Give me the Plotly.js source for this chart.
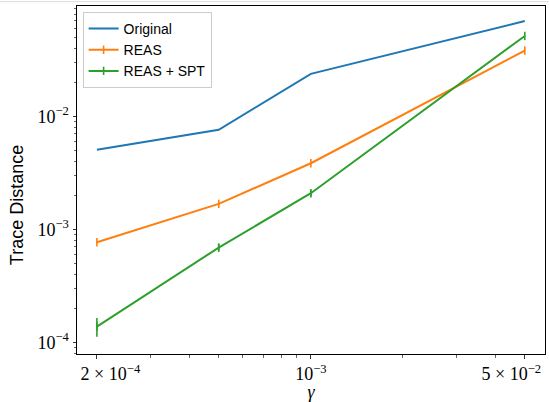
<!DOCTYPE html>
<html>
<head>
<meta charset="utf-8">
<script src="https://cdn.plot.ly/plotly-3.0.1.min.js"></script>
<style>html,body{margin:0;padding:0;background:#fff;}#chart{width:549px;height:402px;}</style>
</head>
<body>
<div id="chart"></div>
<script>
// Data
var gamma = [2e-4, 5e-4, 1e-3, 5e-3];
var original = [5.06e-3, 7.6e-3, 2.38e-2, 6.98e-2];
var reas = [7.7e-4, 1.68e-3, 3.85e-3, 3.82e-2];
var reasErr = [1e-5, 2e-5, 4e-5, 3e-4];
var reasSpt = [1.38e-4, 6.9e-4, 2.09e-3, 5.15e-2];
var reasSptErr = [2.6e-5, 5.5e-5, 1.4e-4, 4e-4];
var seriesNames = ["Original", "REAS", "REAS + SPT"];
var xTickVals = [2e-4, 1e-3, 5e-3];
var xTickText = ["2 × 10<sup>−4</sup>", "10<sup>−3</sup>", "5 × 10<sup>−2</sup>"];
var yTickVals = [1e-4, 1e-3, 1e-2];
var yTickText = ["10<sup>−4</sup>", "10<sup>−3</sup>", "10<sup>−2</sup>"];
var xTitle = "γ";
var yTitle = "Trace Distance";

var colors = ["#1f77b4", "#ff7f0e", "#2ca02c"];
var NB = "\u00a0";
function pad(n) { return new Array(n + 1).join(NB); }

// tick labels in the reference sit slightly inward at the two ends
var xTickShown = xTickText.map(function (t, i) {
  if (i === 0) return pad(6) + t;
  if (i === xTickText.length - 1) return t + pad(6);
  return t;
});

// minor tick positions (log decades)
var yMinor = [];
[1e-5, 1e-4, 1e-3, 1e-2].forEach(function (d) {
  for (var k = 2; k <= 9; k++) yMinor.push(k * d);
});
var xMinor = [];
[1e-4, 1e-3].forEach(function (d) {
  for (var k = 2; k <= 9; k++) {
    var v = k * d;
    var isMajor = xTickVals.some(function (t) { return Math.abs(t - v) < 1e-12; });
    if (!isMajor) xMinor.push(v);
  }
});

var traces = [
  {
    x: gamma, y: original, name: seriesNames[0], type: "scatter", mode: "lines",
    line: {color: colors[0], width: 2}
  },
  {
    x: gamma, y: reas, name: seriesNames[1], type: "scatter", mode: "lines+markers",
    line: {color: colors[1], width: 2},
    marker: {symbol: "line-ns", size: 6, line: {color: colors[1], width: 1.6}},
    error_y: {type: "data", array: reasErr, visible: true, color: colors[1], thickness: 1.6, width: 0}
  },
  {
    x: gamma, y: reasSpt, name: seriesNames[2], type: "scatter", mode: "lines+markers",
    line: {color: colors[2], width: 2},
    marker: {symbol: "line-ns", size: 6, line: {color: colors[2], width: 1.6}},
    error_y: {type: "data", array: reasSptErr, visible: true, color: colors[2], thickness: 1.6, width: 0}
  }
];

var tickFont = {family: "Liberation Serif, DejaVu Serif, serif", size: 18, color: "#000"};

var layout = {
  width: 549, height: 402,
  margin: {l: 77, r: 4, t: 6, b: 48, pad: 0},
  paper_bgcolor: "#fff", plot_bgcolor: "#fff",
  showlegend: true,
  legend: {
    x: 0.012, y: 0.983, xanchor: "left", yanchor: "top",
    bgcolor: "rgba(255,255,255,0.9)", bordercolor: "#cccccc", borderwidth: 1,
    font: {family: "Liberation Sans, Arial, sans-serif", size: 14, color: "#000"},
    tracegroupgap: 0
  },
  xaxis: {
    type: "log", range: [-3.764, -2.235],
    tickmode: "array", tickvals: xTickVals, ticktext: xTickShown,
    ticks: "outside", ticklen: 3.5, tickwidth: 0.8, tickcolor: "#000",
    ticklabeloverflow: "allow",
    showline: true, linecolor: "#000", linewidth: 1, mirror: true,
    showgrid: false, zeroline: false,
    tickfont: tickFont,
    minor: {tickmode: "array", tickvals: xMinor, ticks: "outside", ticklen: 2.5, tickwidth: 0.6, tickcolor: "#000", showgrid: false},
    title: {text: "<i>" + xTitle + "</i>", font: {family: "Liberation Serif, DejaVu Serif, serif", size: 18, color: "#000"}, standoff: 0}
  },
  yaxis: {
    type: "log", range: [-4.103, -1.023],
    tickmode: "array", tickvals: yTickVals, ticktext: yTickText,
    ticks: "outside", ticklen: 3.5, tickwidth: 0.8, tickcolor: "#000",
    ticklabeloverflow: "allow",
    showline: true, linecolor: "#000", linewidth: 1, mirror: true,
    showgrid: false, zeroline: false,
    tickfont: tickFont,
    minor: {tickmode: "array", tickvals: yMinor, ticks: "outside", ticklen: 2, tickwidth: 0.6, tickcolor: "#000", showgrid: false},
    title: {text: yTitle + pad(10) + "\u200b", font: {family: "Liberation Sans, Arial, sans-serif", size: 18, color: "#000"}, standoff: 9}
  },
  shapes: [
    {type: "line", xref: "paper", yref: "paper", x0: -0.2, x1: 1.01, y0: 1.0125, y1: 1.0125,
     line: {color: "#dddddd", width: 1}}
  ]
};

Plotly.newPlot("chart", traces, layout, {displayModeBar: false, staticPlot: true});
</script>
</body>
</html>
